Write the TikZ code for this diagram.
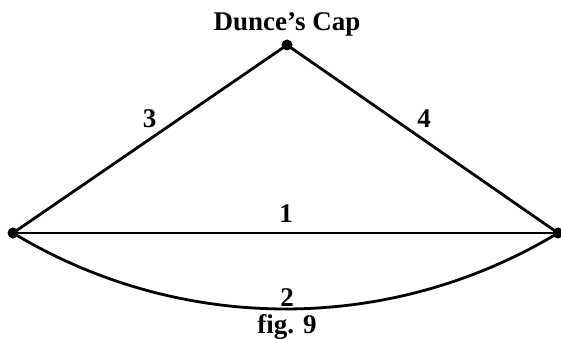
\documentclass[tikz,border=0pt]{standalone}
\usepackage{fontspec}
\setmainfont{Liberation Serif}
\begin{document}
\begin{tikzpicture}[x=1pt,y=-1pt,
  edge/.style={line width=2.8pt},
  vdot/.style={circle,fill=black,inner sep=0pt,minimum size=11pt},
  lbl/.style={inner sep=0pt,anchor=base,font=\fontsize{27}{30}\selectfont\bfseries}]
\useasboundingbox (0,0) rectangle (561,339);
\node[vdot] (T) at (287,45) {};
\node[vdot] (L) at (13,233) {};
\node[vdot] (R) at (558,233) {};
\draw[edge] (L.center) -- (T.center) -- (R.center);
\draw[edge] (L.center) -- (R.center);
\draw[edge] (L.center) .. controls (180.5,334.3) and (390.5,334.3) .. (R.center);
\node[lbl] (title) at (287,31) {Dunce’s Cap};
\node[lbl] (e3) at (149.5,128) {3};
\node[lbl] (e4) at (424,128) {4};
\node[lbl] (e1) at (286,222) {1};
\node[lbl] (e2) at (287,306) {2};
\node[lbl] (fig) at (287,333) {fig. 9};
\end{tikzpicture}
\end{document}
